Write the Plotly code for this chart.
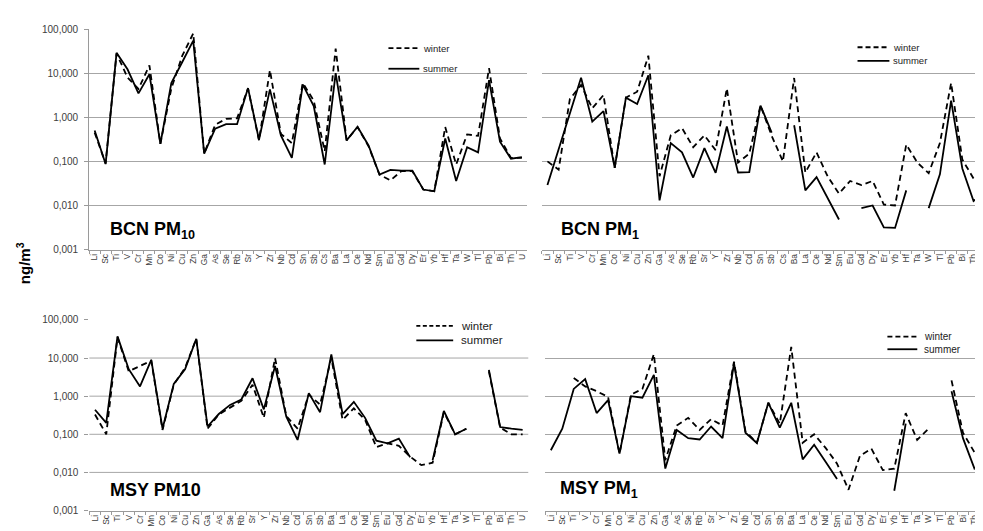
import plotly.graph_objects as go

W, H = 983, 531
FONT = "Liberation Sans, Arial, sans-serif"

def px(x):
    return x / W

def py(y):
    return 1 - y / H

# ---------------- data ----------------
elements_bcn = ["Li", "Sc", "Ti", "V", "Cr", "Mn", "Co", "Ni", "Cu", "Zn", "Ga", "As", "Se", "Rb", "Sr",
                "Y", "Zr", "Nb", "Cd", "Sn", "Sb", "Cs", "Ba", "La", "Ce", "Nd", "Sm", "Eu", "Gd", "Dy",
                "Er", "Yb", "Hf", "Ta", "W", "Tl", "Pb", "Bi", "Th", "U"]
elements_msy = ["Li", "Sc", "Ti", "V", "Cr", "Mn", "Co", "Ni", "Cu", "Zn", "Ga", "As", "Se", "Rb", "Sr",
                "Y", "Zr", "Nb", "Cd", "Sn", "Sb", "Ba", "La", "Ce", "Nd", "Sm", "Eu", "Gd", "Dy",
                "Er", "Yb", "Hf", "Ta", "W", "Tl", "Pb", "Bi", "Th", "U"]

bcn_pm10_winter = [0.45, 0.09, 28, 8, 4.4, 15, 0.25, 4.5, 25, 80, 0.15, 0.68, 0.92, 0.95, 4.5,
                   0.3, 11.8, 0.42, 0.26, 6, 2.4, 0.17, 36, 0.3, 0.6, 0.22, 0.05, 0.037, 0.06, 0.06,
                   0.023, 0.021, 0.6, 0.085, 0.41, 0.38, 13, 0.33, 0.12, 0.12]
bcn_pm10_summer = [0.5, 0.087, 29, 12.3, 3.5, 9.5, 0.25, 6, 18, 55, 0.15, 0.55, 0.70, 0.70, 4.6,
                   0.31, 4.3, 0.39, 0.12, 5.5, 1.8, 0.085, 10, 0.30, 0.61, 0.23, 0.05, 0.064, 0.062, 0.062,
                   0.023, 0.021, 0.33, 0.036, 0.21, 0.16, 7, 0.28, 0.115, 0.125]

bcn_pm1_winter = [0.10, 0.065, 2.6, 5.4, 1.6, 3.2, 0.071, 2.8, 3.8, 25, 0.046, 0.39, 0.57, 0.21, 0.39,
                  0.18, 4.5, 0.094, 0.15, 1.85, 0.38, 0.10, 7.8, 0.056, 0.16, 0.045, 0.0186, 0.036, 0.029, 0.036,
                  0.0105, 0.010, 0.24, 0.093, 0.054, 0.26, 6.0, 0.11, 0.041, 0.093]
bcn_pm1_summer = [0.029, 0.19, 1.3, 7.9, 0.8, 1.38, 0.071, 2.8, 2.0, 9, 0.013, 0.26, 0.16, 0.043, 0.2,
                  0.055, 0.62, 0.056, 0.057, 1.85, 0.45, None, 0.66, 0.022, 0.044, 0.0144, 0.0048, None, 0.0087, 0.010,
                  0.0032, 0.0031, 0.022, None, 0.0087, 0.051, 2.4, 0.069, 0.0126, 0.020]

msy_pm10_winter = [0.33, 0.1, 35, 4.5, 6.2, 8.5, 0.13, 2.0, 5.5, 32, 0.14, 0.33, 0.5, 0.75, 2.0,
                   0.27, 10, 0.3, 0.14, 1.1, 0.6, 10, 0.24, 0.48, 0.24, 0.046, 0.058, 0.05, 0.026,
                   0.0155, 0.018, 0.38, 0.1, 0.14, None, 4.5, 0.15, 0.1, 0.1]
msy_pm10_summer = [0.44, 0.2, 37, 5.1, 1.8, 8.9, 0.14, 2.1, 5.1, 32, 0.16, 0.34, 0.59, 0.82, 2.95,
                   0.45, 6.2, 0.29, 0.071, 1.2, 0.38, 12.4, 0.34, 0.71, 0.27, 0.068, 0.058, 0.077, 0.025,
                   None, 0.021, 0.41, 0.1, 0.14, None, 4.9, 0.155, 0.14, 0.13]

msy_pm1_winter = [None, None, 3.0, 1.8, 1.35, 0.96, 0.031, 1.1, 1.55, 12.7, 0.021, 0.17, 0.27, 0.13, 0.25,
                  0.17, 8.1, 0.12, 0.06, 0.67, 0.19, 19.6, 0.06, 0.10, 0.044, 0.017, 0.0035, 0.027, 0.042,
                  0.0115, 0.0126, 0.36, 0.071, 0.14, None, 2.6, 0.11, 0.034, 0.083]
msy_pm1_summer = [0.038, 0.14, 1.55, 2.8, 0.36, 0.79, 0.031, 1.0, 0.91, 3.6, 0.0126, 0.13, 0.079, 0.073, 0.16,
                  0.079, 7.3, 0.11, 0.059, 0.67, 0.15, 0.67, 0.022, 0.053, 0.019, 0.0067, None, None, None,
                  None, 0.0033, 0.19, None, None, None, 1.35, 0.079, 0.0126, 0.023]

y_tickvals = [0.001, 0.01, 0.1, 1, 10, 100]
y_ticktext = ["0,001", "0,010", "0,100", "1,000", "10,000", "100,000"]

panel_titles = ["BCN PM<sub>10</sub>", "BCN PM<sub>1</sub>", "MSY PM10", "MSY PM<sub>1</sub>"]

# ---------------- figure ----------------
fig = go.Figure()
panels = [
    (elements_bcn, bcn_pm10_winter, bcn_pm10_summer, "x", "y"),
    (elements_bcn, bcn_pm1_winter, bcn_pm1_summer, "x2", "y2"),
    (elements_msy, msy_pm10_winter, msy_pm10_summer, "x3", "y3"),
    (elements_msy, msy_pm1_winter, msy_pm1_summer, "x4", "y4"),
]
for cats, win, summ, xa, ya in panels:
    fig.add_trace(go.Scatter(x=cats, y=win, mode="lines", name="winter", showlegend=False,
                             line=dict(color="black", width=1.8, dash="6px,4px"),
                             xaxis=xa, yaxis=ya, connectgaps=False))
    fig.add_trace(go.Scatter(x=cats, y=summ, mode="lines", name="summer", showlegend=False,
                             line=dict(color="black", width=1.8),
                             xaxis=xa, yaxis=ya, connectgaps=False))

GRID = "#a6a6a6"
AXC = "#9a9a9a"

def xaxis(domain, rng, anchor):
    return dict(type="category", domain=domain, range=rng, anchor=anchor,
                showgrid=False, showline=True, linecolor=AXC, linewidth=1,
                ticks="outside", tickson="boundaries", ticklen=3, tickcolor=AXC,
                tickangle=-90, tickfont=dict(size=8.5, color="#404040", family=FONT),
                fixedrange=True)

def yaxis(domain, anchor, labels, line, grid=True):
    return dict(type="log", domain=domain, range=[-3, 2], anchor=anchor,
                tickvals=y_tickvals, ticktext=y_ticktext,
                showticklabels=labels, ticks="outside" if labels else "",
                ticklen=4, tickcolor=AXC, ticklabelstandoff=4,
                tickfont=dict(size=10, color="#404040", family=FONT),
                showgrid=grid, gridcolor=GRID, gridwidth=1, zeroline=False,
                showline=line, linecolor=AXC, linewidth=1, fixedrange=True)

top_dom = [py(241), py(15.5)]
bot_dom = [py(508), py(313)]

fig.update_layout(
    width=W, height=H,
    margin=dict(l=0, r=0, t=0, b=0),
    paper_bgcolor="white", plot_bgcolor="white",
    font=dict(family=FONT, color="#222222"),
    xaxis=xaxis([px(81.5), px(521.5)], [-0.5, 39.5], "y"),
    yaxis=yaxis(top_dom, "x", True, True),
    xaxis2=xaxis([px(536), 1.0], [-0.5, 39.2], "y2"),
    yaxis2=yaxis(top_dom, "x2", False, False),
    xaxis3=xaxis([px(81.7), px(522.4)], [-0.5, 38.5], "y3"),
    yaxis3=yaxis(bot_dom, "x3", True, False, grid=False),
    xaxis4=xaxis([px(539.3), 1.0], [-0.5, 38.1], "y4"),
    yaxis4=yaxis(bot_dom, "x4", False, False),
)

# MSY PM10 panel: gridlines except the top one (as in the original)
for gv in y_tickvals[1:-1]:
    fig.add_shape(type="line", xref="x3 domain", yref="y3", x0=0, x1=1, y0=gv, y1=gv,
                  line=dict(color=GRID, width=1), layer="below")

# panel titles
title_pos = [(100, 221), (553, 221), (100, 487), (552, 487)]
for (tx, ty), t in zip(title_pos, panel_titles):
    fig.add_annotation(x=px(tx), y=py(ty), xref="paper", yref="paper", text="<b>" + t + "</b>",
                       showarrow=False, xanchor="left", yanchor="middle",
                       font=dict(size=18, color="black", family=FONT))

# legends (drawn per panel)
legends = [
    # x0, x1, y_winter, y_summer, text_x, font size, dash
    (382, 413, 35, 56, 415, 9.5, "5px,3px"),
    (853, 885, 34, 48, 887, 9.5, "5px,3px"),
    (410, 447, 319, 334, 453, 11.5, "4px,2.5px"),
    (883, 913, 330, 343, 918, 10, "5px,3px"),
]
for x0, x1, yw, ys, tx, fs, dsh in legends:
    fig.add_shape(type="line", xref="paper", yref="paper", x0=px(x0), x1=px(x1), y0=py(yw), y1=py(yw),
                  line=dict(color="black", width=1.8, dash=dsh))
    fig.add_shape(type="line", xref="paper", yref="paper", x0=px(x0), x1=px(x1), y0=py(ys), y1=py(ys),
                  line=dict(color="black", width=1.8))
    fig.add_annotation(x=px(tx), y=py(yw), xref="paper", yref="paper", text="winter", showarrow=False,
                       xanchor="left", yanchor="middle", font=dict(size=fs, color="#222222", family=FONT))
    fig.add_annotation(x=px(tx), y=py(ys), xref="paper", yref="paper", text="summer", showarrow=False,
                       xanchor="left", yanchor="middle", font=dict(size=fs, color="#222222", family=FONT))

# y-axis title
fig.add_annotation(x=px(15), y=py(255), xref="paper", yref="paper", text="<b>ng/m<sup>3</sup></b>",
                   showarrow=False, textangle=-90, xanchor="center", yanchor="middle",
                   font=dict(size=15, color="black", family=FONT))

fig.write_html("out.html")
